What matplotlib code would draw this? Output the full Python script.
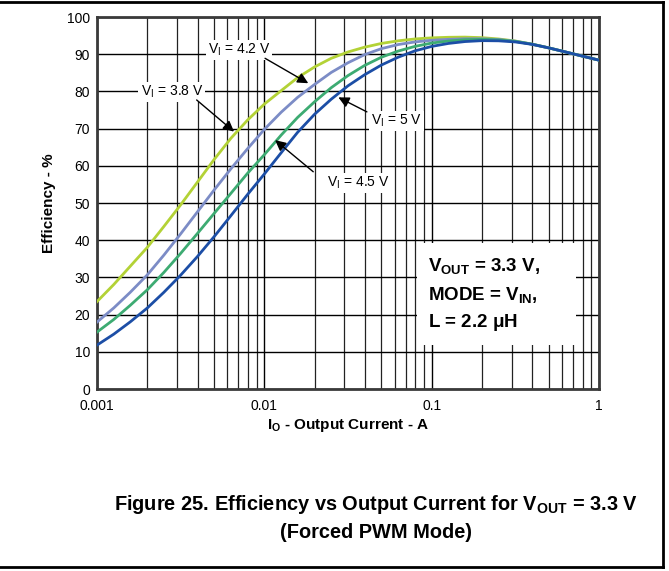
import matplotlib
matplotlib.use("Agg")
import matplotlib.pyplot as plt
from matplotlib.patches import Rectangle
from matplotlib.lines import Line2D

plt.rcParams['font.family'] = ['Liberation Sans', 'DejaVu Sans']
plt.rcParams['mathtext.fontset'] = 'custom'
plt.rcParams['mathtext.rm'] = 'Liberation Sans'
plt.rcParams['mathtext.bf'] = 'Liberation Sans:bold'
plt.rcParams['mathtext.it'] = 'Liberation Sans:italic'

# output current (A) at even log steps
io = [0.001, 0.00126, 0.00158, 0.002, 0.00251, 0.00316, 0.00398, 0.00501,
      0.00631, 0.00794, 0.01, 0.0126, 0.0158, 0.02, 0.0251, 0.0316, 0.0398,
      0.0501, 0.0631, 0.0794, 0.1, 0.126, 0.158, 0.2, 0.251, 0.316, 0.398,
      0.501, 0.631, 0.794, 1.0]

# efficiency (%) per input voltage
eff_38 = [23.5, 28.1, 33.0, 38.1, 43.7, 49.5, 55.6, 61.7, 67.4, 72.3,
          76.6, 80.2, 83.7, 86.6, 88.9, 90.6, 91.9, 92.9, 93.6, 94.1,
          94.4, 94.55, 94.6, 94.45, 94.1, 93.55, 92.7, 91.7, 90.6, 89.5, 88.4]
eff_42 = [18.0, 21.8, 26.0, 30.7, 36.0, 41.7, 47.6, 53.5, 59.2, 64.6,
          69.8, 74.4, 78.4, 81.9, 85.1, 87.7, 89.9, 91.5, 92.6, 93.3,
          93.75, 94.0, 94.15, 94.15, 93.95, 93.5, 92.7, 91.7, 90.6, 89.5, 88.4]
eff_45 = [15.3, 18.7, 22.5, 26.7, 31.35, 36.45, 41.8, 47.2, 52.6, 58.0,
          63.0, 68.25, 73.0, 77.25, 81.0, 84.25, 87.0, 89.2, 90.85, 92.1,
          93.0, 93.55, 93.9, 94.0, 93.85, 93.45, 92.7, 91.7, 90.6, 89.5, 88.4]
eff_50 = [11.8, 14.75, 18.05, 21.8, 26.0, 30.6, 35.6, 40.95, 46.6, 52.3,
          57.8, 63.5, 69.0, 73.9, 77.9, 81.5, 84.5, 87.1, 89.2, 90.9,
          92.1, 92.9, 93.4, 93.65, 93.6, 93.3, 92.65, 91.7, 90.6, 89.5, 88.4]

series = [
    (eff_38, '#b3d236'),
    (eff_42, '#7c8cc6'),
    (eff_45, '#3dab72'),
    (eff_50, '#1c4ea6'),
]

# curve labels: text, text pos, arrow tail, arrow tip (data coords)
labels = [
    ("4.2", (0.00706, 91.1), (0.0101, 88.9), (0.0183, 82.2)),
    ("3.8", (0.0028, 79.9), (0.00394, 77.7), (0.00659, 69.2)),
    ("4.5", (0.0363, 55.4), (0.0196, 58.4), (0.0116, 66.9)),
    ("5", (0.0618, 72.1), (0.041, 74.5), (0.0277, 78.4)),
]

fig = plt.figure(figsize=(6.69, 5.71), dpi=100)
ax = fig.add_axes([0.145, 0.3187, 0.7504, 0.6515])

for eff, col in series:
    ax.plot(io, eff, color=col, lw=2.0, zorder=3)

ax.set_xscale('log')
ax.set_xlim(0.001, 1)
ax.set_ylim(0, 100)
ax.set_yticks(range(0, 101, 10))
ax.set_xticks([0.001, 0.01, 0.1, 1])
ax.set_xticklabels(['0.001', '0.01', '0.1', '1'])
ax.grid(True, which='major', color='black', lw=1.0)
ax.grid(True, which='minor', axis='x', color='#222222', lw=0.9)
ax.tick_params(which='both', length=0, labelsize=10, colors='black')
ax.tick_params(axis='y', pad=5)
ax.tick_params(axis='x', pad=7)
for sp in ax.spines.values():
    sp.set_color('#3a3a3a')
    sp.set_linewidth(2)

ax.set_ylabel('Efficiency - %', fontsize=11, fontweight='bold', labelpad=8)
ax.set_xlabel(r'I$_\mathbf{O}$ - Output Current - A', fontsize=11,
              fontweight='bold', labelpad=3)

for v, tpos, tail, tip in labels:
    ax.text(tpos[0], tpos[1], r'V$_\mathrm{I}$ = ' + v + ' V', fontsize=10,
            ha='center', va='center', zorder=5,
            bbox=dict(facecolor='white', edgecolor='none', pad=1.5))
    ax.annotate('', xy=tip, xytext=tail, zorder=6,
                arrowprops=dict(arrowstyle='-|>', color='black', lw=1.0,
                                mutation_scale=16, shrinkA=0, shrinkB=0))

# condition box
ax.add_patch(Rectangle((0.637, 0.118), 0.318, 0.274, transform=ax.transAxes,
                       facecolor='white', edgecolor='none', zorder=4))
box_lines = [r'$\mathbf{V_{OUT}}$ = 3.3 V,', r'MODE = $\mathbf{V_{IN}}$,',
             r'L = 2.2 $\mathbf{\mu}$H']
for i, s in enumerate(box_lines):
    ax.text(0.659, 0.330 - i * 0.076, s, transform=ax.transAxes, fontsize=13.5,
            fontweight='bold', ha='left', va='center', zorder=5)

fig.text(0.562, 1 - 505 / 571,
         r'Figure 25. Efficiency vs Output Current for $\mathbf{V_{OUT}}$ = 3.3 V',
         fontsize=14.4, fontweight='bold', ha='center', va='center')
fig.text(0.562, 1 - 532 / 571, '(Forced PWM Mode)', fontsize=14.4,
         fontweight='bold', ha='center', va='center')

# outer frame
fig.add_artist(Line2D([0, 663 / 669], [1 - 1.5 / 571] * 2, transform=fig.transFigure,
                      color='black', lw=2))
fig.add_artist(Line2D([663 / 669] * 2, [1 - 567 / 571, 1 - 1.5 / 571],
                      transform=fig.transFigure, color='black', lw=2))
fig.add_artist(Line2D([0, 663 / 669], [1 - 567 / 571] * 2, transform=fig.transFigure,
                      color='black', lw=2))

fig.savefig("out.png", dpi=100)
